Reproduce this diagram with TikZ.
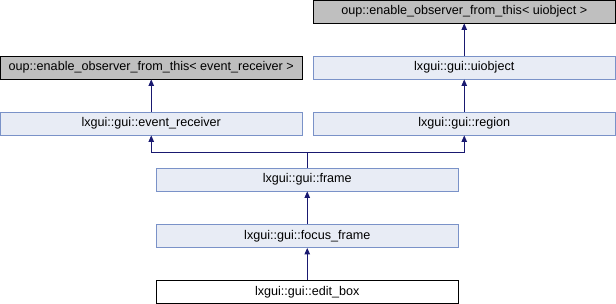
\documentclass[tikz,border=0pt]{standalone}
\usepackage{fontspec}
\setmainfont{Liberation Sans}
\usetikzlibrary{arrows.meta}
\definecolor{classfill}{HTML}{E8ECF5}
\definecolor{classline}{HTML}{7A92C8}
\definecolor{extfill}{HTML}{BFBFBF}
\definecolor{edgecol}{HTML}{191970}
\tikzset{
  classbox/.style={draw=classline, fill=classfill, line width=0.9pt,
    minimum width=301.5pt, minimum height=23pt, inner sep=0pt,
    font=\fontsize{12.6}{14}\selectfont},
  extbox/.style={classbox, draw=black, fill=extfill},
  focusbox/.style={classbox, draw=black, fill=white},
  inherit/.style={draw=edgecol, line width=0.9pt,
    -{Triangle[width=5.5pt,length=6.5pt]}},
  plainedge/.style={draw=edgecol, line width=0.9pt}
}
\begin{document}
\begin{tikzpicture}[x=1pt,y=-1pt]
  \useasboundingbox (0,0) rectangle (616,304);
  % base classes
  \node[extbox]   (obsUI) at (464.25,11.5)  {oup::enable\_observer\_from\_this< uiobject >};
  \node[classbox] (uiobj) at (464.25,67.5)  {lxgui::gui::uiobject};
  \node[extbox]   (obsER) at (151.25,67.5)  {oup::enable\_observer\_from\_this< event\_receiver >};
  \node[classbox] (evrec) at (151.25,123.5) {lxgui::gui::event\_receiver};
  \node[classbox] (region) at (464.25,123.5) {lxgui::gui::region};
  % derived classes
  \node[classbox] (frame) at (307.25,179.5) {lxgui::gui::frame};
  \node[classbox] (focus) at (307.25,236)   {lxgui::gui::focus\_frame};
  \node[focusbox] (edit)  at (307.25,292)   {lxgui::gui::edit\_box};
  % inheritance arrows
  \draw[inherit] (uiobj) -- (obsUI);
  \draw[inherit] (evrec) -- (obsER);
  \draw[inherit] (region) -- (uiobj);
  \coordinate (join) at (307.25,152.5);
  \draw[plainedge] (frame) -- (join);
  \draw[inherit] (join) -| (evrec);
  \draw[inherit] (join) -| (region);
  \draw[inherit] (focus) -- (frame);
  \draw[inherit] (edit) -- (focus);
\end{tikzpicture}
\end{document}
